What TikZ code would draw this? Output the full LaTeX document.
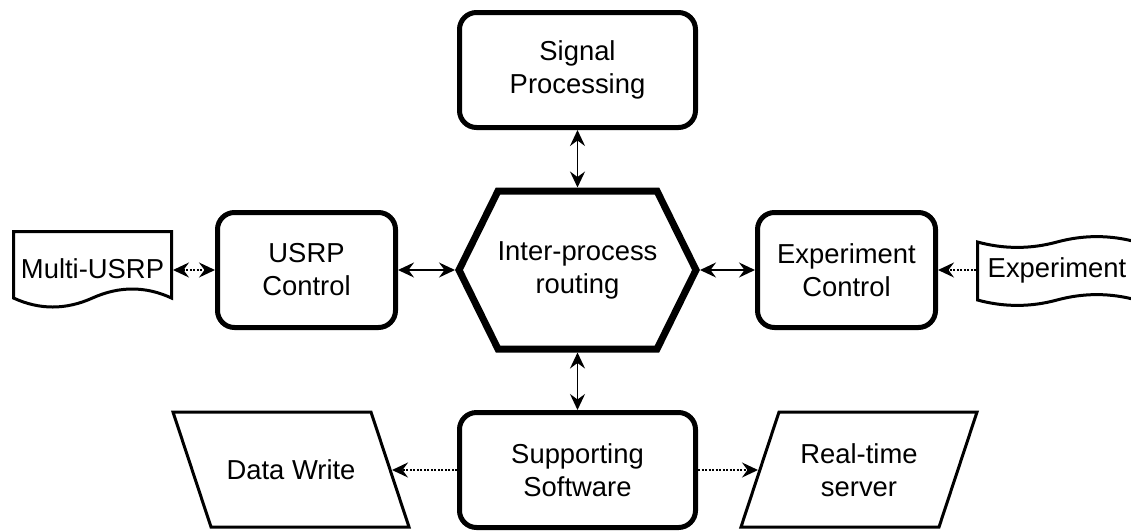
\documentclass[tikz,border=0pt]{standalone}
\usepackage{fontspec}
\setmainfont{Liberation Sans}
\usetikzlibrary{arrows.meta}
\begin{document}
\begin{tikzpicture}[x=1pt,y=-1pt,
  every node/.style={font=\fontsize{27.4}{33}\selectfont, align=center, inner sep=0pt, outer sep=0pt},
  procbox/.style={draw, line width=5pt, rounded corners=17pt, minimum width=236pt, minimum height=115pt, outer sep=2.5pt},
  ctrlbox/.style={procbox, minimum width=178pt},
  ghost/.style={draw=none, minimum width=#1, minimum height=115pt},
  thinshape/.style={draw, line width=3pt, line join=miter},
  hexline/.style={draw, line width=7pt, line join=miter},
  head/.tip={Stealth[length=16pt, width=15pt, inset=5.5pt]},
  tip/.style={-head},
  biarrow/.style={line width=1.6pt, head-head},
  dotbi/.style={biarrow, dash pattern=on 2pt off 1.5pt},
  dotarrow/.style={line width=1.6pt, tip, dash pattern=on 2pt off 1.5pt}
]
\fill[white] (0,0) rectangle (1131,531);
\useasboundingbox (0,0) rectangle (1131,531);

% custom outlines
\draw[hexline] (459,270) -- (498,191) -- (657,191) -- (696,270) -- (657,349) -- (498,349) -- cycle;
% Multi-USRP document
\draw[thinshape] (13.5,231.5) -- (171.5,231.5) -- (171.5,298)
  .. controls (145.5,286) and (119.2,286) .. (92.5,298)
  .. controls (65.8,310) and (39.5,310) .. (13.5,298) -- cycle;
% Experiment tape
\draw[thinshape] (977.5,242)
  .. controls (1004,249.2) and (1030.5,249.2) .. (1057,242)
  .. controls (1083.5,234.8) and (1110,234.8) .. (1136.5,242)
  -- (1136.5,300)
  .. controls (1110,292.8) and (1083.5,292.8) .. (1057,300)
  .. controls (1030.5,307.2) and (1004,307.2) .. (977.5,300) -- cycle;
% Data Write parallelogram
\draw[thinshape] (173,412) -- (371,412) -- (409,527) -- (211,527) -- cycle;
% Real-time server parallelogram
\draw[thinshape] (779,412) -- (977,412) -- (939,527) -- (741,527) -- cycle;

% nodes
\node[procbox] (sig) at (577.5,70) {Signal\\Processing};
\node[draw=none, minimum width=245pt, minimum height=165pt] (hex) at (577.5,270) {Inter-process\\routing};
\node[ctrlbox] (usrp) at (306.5,270) {USRP\\Control};
\node[ctrlbox] (ec) at (846.5,270) {Experiment\\Control};
\node[procbox] (sup) at (577.5,470) {Supporting\\Software};
\node[draw=none, minimum width=161pt, minimum height=66pt] (mu) at (92.5,268.5) {Multi-USRP};
\node[draw=none, minimum width=162pt, minimum height=60pt] (exn) at (1057,270) {Experiment};
\node[ghost=202pt] (dw) at (291,470) {Data Write};
\node[ghost=202pt] (rt) at (859,470) {Real-time\\server};

% connectors
\draw[biarrow] (sig) -- (hex);
\draw[biarrow] (hex) -- (sup);
\draw[biarrow] (usrp) -- (hex);
\draw[biarrow] (hex) -- (ec);
\draw[dotbi] (mu.east |- usrp.west) -- (usrp.west);
\draw[dotarrow] (exn) -- (ec);
\draw[dotarrow] (sup) -- (dw);
\draw[dotarrow] (sup) -- (rt);
\end{tikzpicture}
\end{document}
